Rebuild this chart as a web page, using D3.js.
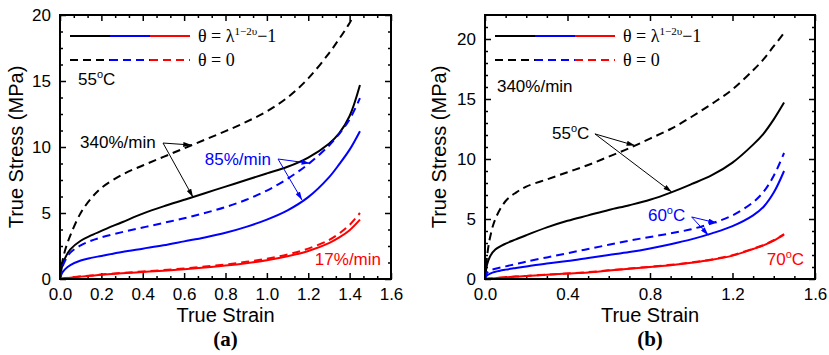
<!DOCTYPE html>
<html>
<head>
<meta charset="utf-8">
<script src="https://cdn.jsdelivr.net/npm/d3@7"></script>
<style>
  body { margin: 0; background: #fff; }
  svg { display: block; font-family: "Liberation Sans", Arial, sans-serif; }
  .serif { font-family: "Liberation Serif", "Times New Roman", serif; }
</style>
</head>
<body>
<svg width="829" height="355"></svg>
<script>
// shared strain grid (true strain)
const strain = [0, 0.01, 0.025, 0.05, 0.1, 0.15, 0.2, 0.3, 0.4, 0.5, 0.6, 0.7, 0.8, 0.9, 1.0, 1.1, 1.2, 1.3, 1.35, 1.4, 1.45];

// (a) 55oC, three strain rates — stress in MPa
const solid340 = [0, 0.95, 1.6, 2.25, 2.9, 3.3, 3.65, 4.3, 4.95, 5.5, 6.0, 6.5, 7.0, 7.5, 8.0, 8.5, 9.2, 10.25, 11.05, 12.35, 14.7];
const dashed340 = [0, 1.2, 2.2, 3.3, 5.0, 6.1, 6.9, 7.9, 8.6, 9.25, 9.9, 10.55, 11.2, 11.9, 12.7, 13.75, 15.2, 17.1, 18.2, 19.4, 20.8];
const solid85 = [0, 0.45, 0.75, 1.05, 1.4, 1.6, 1.75, 2.05, 2.3, 2.55, 2.85, 3.15, 3.5, 3.95, 4.5, 5.2, 6.2, 7.7, 8.7, 9.8, 11.2];
const dashed85 = [0, 0.8, 1.4, 2.0, 2.55, 2.9, 3.15, 3.55, 3.9, 4.25, 4.6, 5.0, 5.45, 6.0, 6.7, 7.6, 8.7, 10.1, 11.0, 12.1, 13.7];
const solid17 = [0, 0.03, 0.06, 0.1, 0.18, 0.25, 0.32, 0.43, 0.53, 0.63, 0.74, 0.87, 1.02, 1.2, 1.42, 1.72, 2.12, 2.72, 3.15, 3.7, 4.5];
const dashed17 = [0, 0.03, 0.07, 0.12, 0.2, 0.27, 0.34, 0.46, 0.57, 0.68, 0.8, 0.94, 1.1, 1.3, 1.54, 1.86, 2.3, 2.95, 3.45, 4.1, 5.0];

// (b) 340%/min, three temperatures
const solid55 = [0, 1.2, 1.9, 2.45, 2.95, 3.3, 3.65, 4.3, 4.85, 5.3, 5.75, 6.15, 6.6, 7.2, 7.9, 8.65, 9.7, 11.2, 12.1, 13.3, 14.7];
const dashed55 = [0, 1.9, 3.5, 5.0, 6.5, 7.2, 7.7, 8.3, 8.9, 9.5, 10.2, 10.9, 11.7, 12.5, 13.5, 14.6, 15.8, 17.4, 18.3, 19.4, 20.5];
const solid60 = [0, 0.3, 0.45, 0.6, 0.78, 0.92, 1.05, 1.3, 1.5, 1.75, 2.0, 2.25, 2.55, 2.9, 3.3, 3.8, 4.4, 5.3, 6.0, 7.2, 9.0];
const dashed60 = [0, 0.5, 0.7, 0.85, 1.05, 1.25, 1.45, 1.8, 2.15, 2.5, 2.85, 3.2, 3.5, 3.8, 4.15, 4.65, 5.3, 6.4, 7.25, 8.6, 10.5];
const solid70 = [0, 0.02, 0.04, 0.07, 0.15, 0.2, 0.25, 0.35, 0.45, 0.55, 0.7, 0.85, 1.0, 1.15, 1.35, 1.6, 1.95, 2.5, 2.8, 3.2, 3.7];
const dashed70 = [0, 0.02, 0.04, 0.07, 0.15, 0.2, 0.26, 0.36, 0.46, 0.57, 0.72, 0.87, 1.02, 1.18, 1.38, 1.63, 1.98, 2.53, 2.83, 3.24, 3.75];

const xTicksA = [0, 0.2, 0.4, 0.6, 0.8, 1.0, 1.2, 1.4, 1.6];
const xTicksB = [0, 0.4, 0.8, 1.2, 1.6];
const yTicks = [0, 5, 10, 15, 20];

const svg = d3.select('svg');

const defs = svg.append('defs');
['black', 'blue', 'red'].forEach(c => {
  defs.append('marker')
    .attr('id', 'arr-' + c)
    .attr('viewBox', '0 0 10 6')
    .attr('refX', 10).attr('refY', 3)
    .attr('markerWidth', 9).attr('markerHeight', 5)
    .attr('markerUnits', 'userSpaceOnUse')
    .attr('orient', 'auto')
    .append('path')
    .attr('d', 'M0,0L10,3L0,6z')
    .attr('fill', c);
});

function drawPanel(p) {
  const x = d3.scaleLinear().domain([0, 1.6]).range([p.x0, p.x1]);
  const y = d3.scaleLinear().domain([0, p.yMax]).range([p.y1, p.y0]);
  const g = svg.append('g');

  // minor ticks
  const xMinor = [];
  for (let i = 0; i < p.xTicks.length - 1; i++) {
    const step = (p.xTicks[i + 1] - p.xTicks[i]) / (p.xMinor + 1);
    for (let k = 1; k <= p.xMinor; k++) xMinor.push(p.xTicks[i] + k * step);
  }
  const yMinor = d3.range(p.yMinorStep, p.yMax, p.yMinorStep).filter(v => Math.abs(v % 5) > 1e-6);

  const addAxis = (axis, tf) => {
    const a = g.append('g').attr('transform', tf).call(axis);
    a.select('.domain').remove();
    a.selectAll('line').attr('stroke', '#000').attr('stroke-width', 1.5);
    a.selectAll('text').attr('font-size', 17).attr('fill', '#000');
    return a;
  };

  addAxis(d3.axisBottom(x).tickValues(p.xTicks).tickSize(-6).tickPadding(9).tickFormat(d3.format('.1f')), `translate(0,${p.y1})`);
  addAxis(d3.axisBottom(x).tickValues(xMinor).tickSize(-3).tickFormat(''), `translate(0,${p.y1})`);
  addAxis(d3.axisTop(x).tickValues(p.xTicks).tickSize(-6).tickFormat(''), `translate(0,${p.y0})`);
  addAxis(d3.axisTop(x).tickValues(xMinor).tickSize(-3).tickFormat(''), `translate(0,${p.y0})`);
  addAxis(d3.axisLeft(y).tickValues(yTicks).tickSize(-6).tickPadding(9).tickFormat(d3.format('d')), `translate(${p.x0},0)`);
  addAxis(d3.axisLeft(y).tickValues(yMinor).tickSize(-3).tickFormat(''), `translate(${p.x0},0)`);
  addAxis(d3.axisRight(y).tickValues(yTicks).tickSize(-6).tickFormat(''), `translate(${p.x1},0)`);
  addAxis(d3.axisRight(y).tickValues(yMinor).tickSize(-3).tickFormat(''), `translate(${p.x1},0)`);

  // clip
  const clipId = 'clip-' + p.name;
  defs.append('clipPath').attr('id', clipId)
    .append('rect').attr('x', p.x0).attr('y', p.y0)
    .attr('width', p.x1 - p.x0).attr('height', p.y1 - p.y0);

  const line = d3.line()
    .x((d, i) => x(strain[i]))
    .y(d => y(d))
    .curve(d3.curveCatmullRom.alpha(0.5));

  const curves = g.append('g').attr('clip-path', `url(#${clipId})`);
  p.series.forEach(s => {
    curves.append('path')
      .attr('d', line(s.values))
      .attr('fill', 'none')
      .attr('stroke', s.color)
      .attr('stroke-width', 2)
      .attr('stroke-dasharray', s.dashed ? '8,5' : null);
  });

  // frame
  g.append('rect')
    .attr('x', p.x0).attr('y', p.y0)
    .attr('width', p.x1 - p.x0).attr('height', p.y1 - p.y0)
    .attr('fill', 'none').attr('stroke', '#000').attr('stroke-width', 2);

  // legend
  const lx = p.x0 + 10, lw = 40;
  ['black', 'blue', 'red'].forEach((c, i) => {
    g.append('line')
      .attr('x1', lx + i * lw).attr('x2', lx + (i + 1) * lw)
      .attr('y1', p.y0 + 21).attr('y2', p.y0 + 21)
      .attr('stroke', c).attr('stroke-width', 2);
    g.append('line')
      .attr('x1', lx + i * lw).attr('x2', lx + (i + 1) * lw)
      .attr('y1', p.y0 + 45).attr('y2', p.y0 + 45)
      .attr('stroke', c).attr('stroke-width', 2)
      .attr('stroke-dasharray', '8,5');
  });
  const t1 = g.append('text').attr('class', 'serif')
    .attr('x', lx + 3 * lw + 8).attr('y', p.y0 + 27).attr('font-size', 18);
  t1.append('tspan').text('θ = λ');
  t1.append('tspan').attr('font-size', 11).attr('dy', -7).text('1−2υ');
  t1.append('tspan').attr('dy', 7).text('−1');
  g.append('text').attr('class', 'serif')
    .attr('x', lx + 3 * lw + 8).attr('y', p.y0 + 51).attr('font-size', 18)
    .text('θ = 0');

  // annotations
  p.notes.forEach(n => {
    const t = g.append('text')
      .attr('x', x(n.at[0])).attr('y', y(n.at[1]))
      .attr('font-size', 17).attr('fill', n.color);
    if (n.deg) {
      t.append('tspan').text(n.text);
      t.append('tspan').attr('font-size', 11).attr('dy', -7).text('o');
      t.append('tspan').attr('dy', 7).text('C');
    } else {
      t.text(n.text);
    }
    (n.tips || []).forEach(tip => {
      g.append('line')
        .attr('x1', x(n.from[0])).attr('y1', y(n.from[1]))
        .attr('x2', x(tip[0])).attr('y2', y(tip[1]))
        .attr('stroke', n.color).attr('stroke-width', 1)
        .attr('marker-end', `url(#arr-${n.color})`);
    });
  });

  // axis titles
  g.append('text')
    .attr('x', (p.x0 + p.x1) / 2).attr('y', 322)
    .attr('text-anchor', 'middle').attr('font-size', 20)
    .text('True Strain');
  g.append('text')
    .attr('transform', `translate(${p.yLabelX},${(p.y0 + p.y1) / 2}) rotate(-90)`)
    .attr('text-anchor', 'middle').attr('font-size', 20)
    .text('True Stress (MPa)');
  g.append('text').attr('class', 'serif')
    .attr('x', (p.x0 + p.x1) / 2).attr('y', 346)
    .attr('text-anchor', 'middle').attr('font-size', 21).attr('font-weight', 'bold')
    .text(p.tag);
}

drawPanel({
  name: 'a', tag: '(a)',
  x0: 60, x1: 391, y0: 15, y1: 279, yMax: 20,
  xTicks: xTicksA, xMinor: 2, yMinorStep: 1.25, yLabelX: 23,
  series: [
    { values: dashed340, color: 'black', dashed: true },
    { values: solid340, color: 'black' },
    { values: dashed85, color: 'blue', dashed: true },
    { values: solid85, color: 'blue' },
    { values: dashed17, color: 'red', dashed: true },
    { values: solid17, color: 'red' }
  ],
  notes: [
    { text: '55', deg: true, color: 'black', at: [0.087, 14.7] },
    { text: '340%/min', color: 'black', at: [0.097, 9.92], from: [0.498, 10.3], tips: [[0.636, 10.15], [0.643, 6.2]] },
    { text: '85%/min', color: 'blue', at: [0.70, 8.64], from: [1.054, 9.09], tips: [[1.208, 8.76], [1.17, 5.98]] },
    { text: '17%/min', color: 'red', at: [1.232, 1.06] }
  ]
});

drawPanel({
  name: 'b', tag: '(b)',
  x0: 485, x1: 815, y0: 15, y1: 279, yMax: 22,
  xTicks: xTicksB, xMinor: 3, yMinorStep: 1, yLabelX: 446,
  series: [
    { values: dashed55, color: 'black', dashed: true },
    { values: solid55, color: 'black' },
    { values: dashed60, color: 'blue', dashed: true },
    { values: solid60, color: 'blue' },
    { values: dashed70, color: 'red', dashed: true },
    { values: solid70, color: 'red' }
  ],
  notes: [
    { text: '340%/min', color: 'black', at: [0.058, 15.6] },
    { text: '55', deg: true, color: 'black', at: [0.325, 11.7], from: [0.533, 12.09], tips: [[0.727, 11.12], [0.905, 7.24]] },
    { text: '60', deg: true, color: 'blue', at: [0.79, 4.84], from: [1.002, 5.17], tips: [[1.123, 4.67], [1.083, 3.65]] },
    { text: '70', deg: true, color: 'red', at: [1.366, 1.16] }
  ]
});
</script>
</body>
</html>
